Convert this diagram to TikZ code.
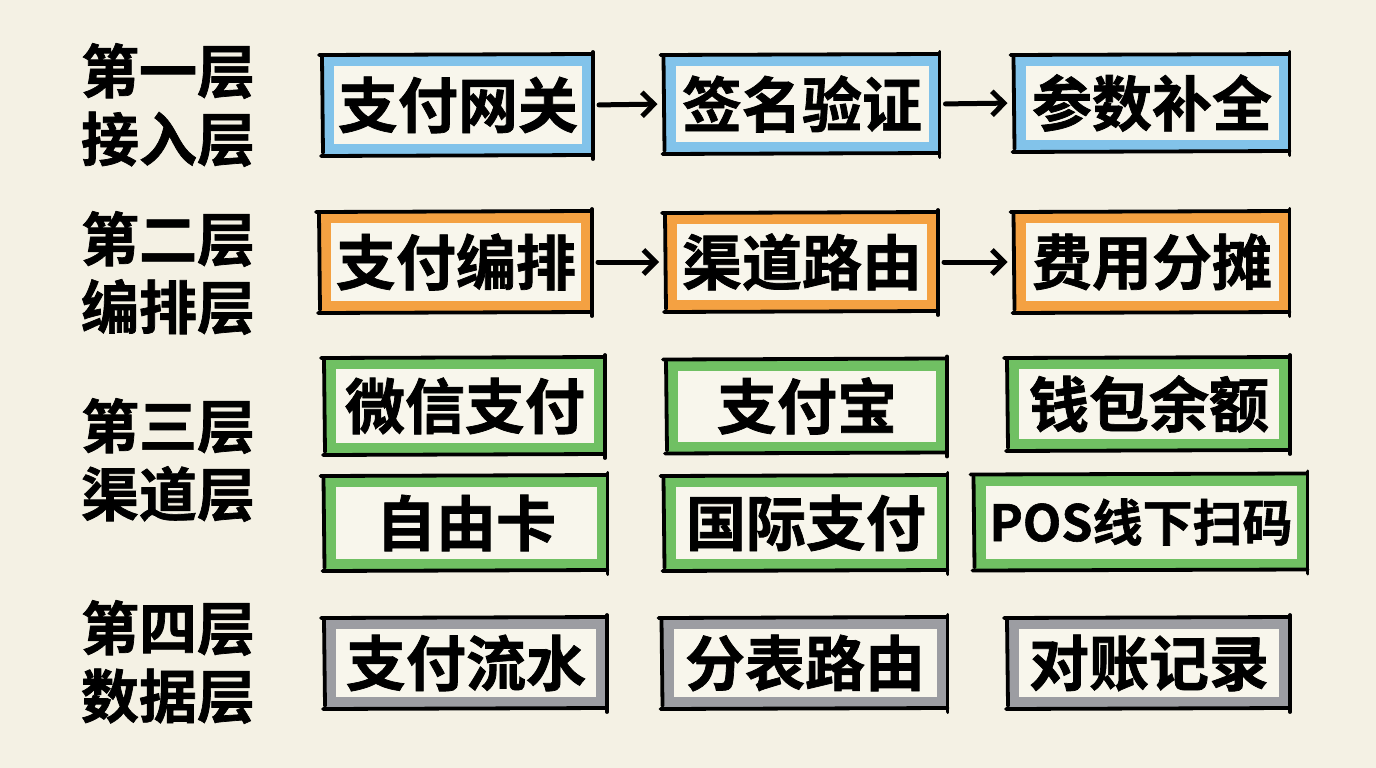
\documentclass[tikz,border=0pt]{standalone}
\usepackage{fontspec}
\setmainfont{Noto Sans CJK SC}[BoldFont={Noto Sans CJK SC Bold},BoldFeatures={FakeBold=1.2}]
\usetikzlibrary{arrows.meta,calc}
\definecolor{bg}{HTML}{F4F1E4}
\definecolor{inner}{HTML}{F8F6EC}
\definecolor{cblue}{HTML}{82C3EA}
\definecolor{corange}{HTML}{F4A142}
\definecolor{cgreen}{HTML}{70C063}
\definecolor{cgray}{HTML}{9C9DA2}
\tikzset{
  box/.style={draw=#1, line width=11pt, fill=inner, inner sep=0pt,
    font=\bfseries\fontsize{60}{66}\selectfont, text=black},
  frame/.style={draw=black, line width=3.8pt, line cap=round},
  layer/.style={font=\bfseries\fontsize{58}{68}\selectfont, align=center, text=black, inner sep=0pt},
  flow/.style={draw=black, line width=5pt, line cap=round,
    -{Straight Barb[length=12pt,width=24pt,line width=5pt]}}
}
\newcommand\frm[1]{%
  \draw[frame] ([shift={(-4,0)}]#1.north west) -- ([shift={(-1,-1)}]#1.north east);
  \draw[frame] ([shift={(0,-3)}]#1.north east) -- ([shift={(0,4)}]#1.south east);
  \draw[frame] ([shift={(0,0)}]#1.south east) -- ([shift={(-2,1)}]#1.south west);
  \draw[frame] ([shift={(0,-2)}]#1.south west) -- ([shift={(-1,2)}]#1.north west);
}
% name, x, y, w, h, colour, text
\newcommand\bx[7]{%
  \node[box=#6, minimum width={#4pt-11pt}, minimum height={#5pt-11pt}] (#1) at (#2,#3) {#7};
  \frm{#1}
}
\begin{document}
\begin{tikzpicture}[x=1pt,y=-1pt]
\fill[bg] (0,0) rectangle (1376,768);
\useasboundingbox (0,0) rectangle (1376,768);

\node[layer] (L1) at (168,105) {第一层\\接入层};
\node[layer] (L2) at (168,273) {第二层\\编排层};
\node[layer] (L3) at (168,460) {第三层\\渠道层};
\node[layer] (L4) at (168,662) {第四层\\数据层};

\bx{b11}{458}{105}{270}{100}{cblue}{支付网关}
\bx{b12}{802}{104}{275}{98}{cblue}{签名验证}
\bx{b13}{1152}{103}{275}{96}{cblue}{参数补全}

\bx{b21}{456}{262}{272}{100}{corange}{支付编排}
\bx{b22}{802}{262}{272}{98}{corange}{渠道路由}
\bx{b23}{1152}{262}{275}{100}{corange}{费用分摊}

\bx{b31}{465}{406}{280}{96}{cgreen}{微信支付}
\bx{b32}{807}{406}{280}{93}{cgreen}{支付宝}
\bx{b33}{1149}{404}{282}{92}{cgreen}{钱包余额}

\bx{b41}{466}{523}{283}{94}{cgreen}{自由卡}
\bx{b42}{806}{523}{283}{94}{cgreen}{国际支付}
\node[box=cgreen, minimum width={333pt-11pt}, minimum height={95pt-11pt},
  font=\bfseries\fontsize{50}{56}\selectfont] (b43) at (1141,522) {POS线下扫码};
\frm{b43}

\bx{b51}{466}{663}{282}{90}{cgray}{支付流水}
\bx{b52}{805}{663}{285}{90}{cgray}{分表路由}
\bx{b53}{1149}{663}{282}{90}{cgray}{对账记录}

\draw[flow, shorten <=6pt, shorten >=7pt] (b11.east) -- (b12.west);
\draw[flow, shorten <=6pt, shorten >=7pt] (b12.east) -- (b13.west);
\draw[flow, shorten <=6pt, shorten >=7pt] (b21.east) -- (b22.west);
\draw[flow, shorten <=6pt, shorten >=7pt] (b22.east) -- (b23.west);
\end{tikzpicture}
\end{document}
